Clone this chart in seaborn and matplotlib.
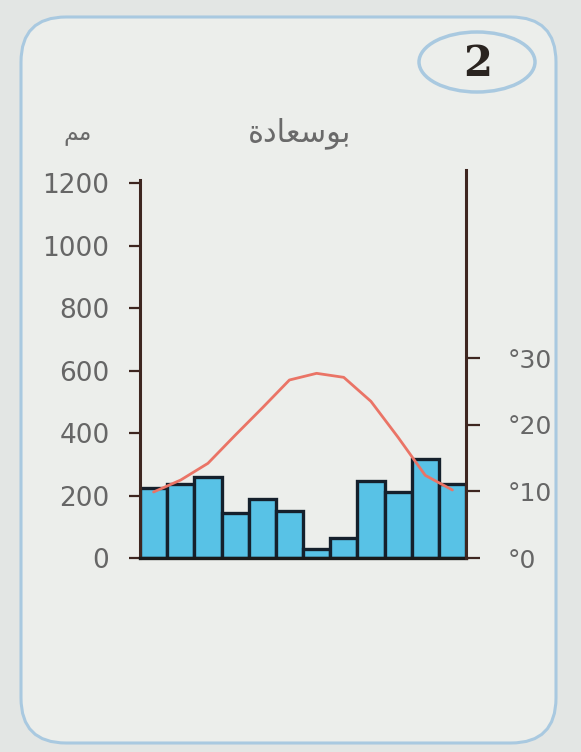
import numpy as np
import pandas as pd
import matplotlib
matplotlib.use("Agg")
import matplotlib.pyplot as plt
from matplotlib.patches import FancyBboxPatch, Ellipse
import seaborn as sns

# dane klimatyczne
miesiace = ["1", "2", "3", "4", "5", "6", "7", "8", "9", "10", "11", "12"]
opady = [225, 238, 260, 143, 190, 150, 29, 63, 248, 210, 318, 238]
temperatura = [9.9, 11.7, 14.2, 18.4, 22.5, 26.7, 27.7, 27.1, 23.5, 18.1, 12.4, 10.2]
opady_ticks = [0, 200, 400, 600, 800, 1000, 1200]
temp_ticks = [0, 10, 20, 30]
temp_labels = ["°0", "°10", "°20", "°30"]
tytul = "\uFE93\uFEA9\uFE8E\uFECC\uFEB3\uFEEE\uFE91"  # بوسعادة (formy prezentacyjne)
jednostka = "\uFEE2\uFEE3"  # مم
numer = "2"

sns.set_theme(style="white")
plt.rcParams["font.family"] = ["DejaVu Sans"]

kolor_tla = "#e3e6e4"
kolor_karty = "#eceeeb"
kolor_ramki = "#a9c9e0"
kolor_osi = "#3e2620"
kolor_tekstu = "#666666"

fig = plt.figure(figsize=(5.81, 7.52), dpi=100, facecolor=kolor_tla)

# karta z zaokrąglonymi rogami (pod osiami)
karta = FancyBboxPatch((0.21, 0.09), 5.35, 7.26, boxstyle="round,pad=0,rounding_size=0.45",
                       transform=fig.dpi_scale_trans, facecolor=kolor_karty,
                       edgecolor=kolor_ramki, linewidth=2.2, zorder=-2)
fig.patches.append(karta)
elipsa = Ellipse((4.77, 6.90), 1.16, 0.60, transform=fig.dpi_scale_trans,
                 facecolor="none", edgecolor=kolor_ramki, linewidth=2.5, zorder=-1)
fig.patches.append(elipsa)
fig.text(4.78 / 5.81, 6.88 / 7.52, numer, ha="center", va="center", fontsize=30,
         fontweight="bold", family="DejaVu Serif", color="#2a2420")

# osie: lewy brzeg 140px, prawy 466px, dół 558px, góra 170px
ax = fig.add_axes([140 / 581, 194 / 752, 326 / 581, 388 / 752])
ax.set_facecolor("none")

df = pd.DataFrame({"miesiac": miesiace, "opady": opady})
sns.barplot(data=df, x="miesiac", y="opady", color="#58c2e6", saturation=1, width=1.0,
            edgecolor="#15202c", linewidth=2.4, ax=ax)
ax.set_ylim(0, 1242)
ax.set_yticks(opady_ticks)
ax.set_yticklabels([str(v) for v in opady_ticks], fontsize=19, color=kolor_tekstu)
ax.tick_params(axis="y", direction="out", length=8, width=1.6, color=kolor_osi, pad=14, left=True)
ax.tick_params(axis="x", bottom=False, labelbottom=False)
ax.set_xlabel("")
ax.set_ylabel("")
for s in ["top", "right"]:
    ax.spines[s].set_visible(False)
ax.spines["left"].set_color(kolor_osi)
ax.spines["left"].set_linewidth(2.2)
ax.spines["left"].set_bounds(0, 1210)
ax.spines["bottom"].set_color("#1a1a1a")
ax.spines["bottom"].set_linewidth(2.4)

ax2 = ax.twinx()
sns.lineplot(x=np.arange(len(temperatura)), y=temperatura, color="#ea7466", linewidth=2.0, ax=ax2)
ax2.set_ylim(0, 58.2)
ax2.set_xlim(-0.5, len(miesiace) - 0.5)
ax2.set_yticks(temp_ticks)
ax2.set_yticklabels(temp_labels, fontsize=18, color=kolor_tekstu)
ax2.tick_params(axis="y", direction="out", length=10, width=1.6, color=kolor_osi, pad=20, right=True)
for s in ["top", "left", "bottom"]:
    ax2.spines[s].set_visible(False)
ax2.spines["right"].set_color(kolor_osi)
ax2.spines["right"].set_linewidth(2.2)
ax2.set_ylabel("")

# tytuł stacji i jednostka
fig.text(300 / 581, 1 - 133 / 752, tytul, ha="center", va="center", fontsize=22,
         color="#6a6a6a", family="DejaVu Sans")
fig.text(78 / 581, 1 - 133 / 752, jednostka, ha="center", va="center", fontsize=17,
         color="#6a6a6a", family="DejaVu Sans")

fig.savefig("out.png", dpi=100, facecolor=kolor_tla)
